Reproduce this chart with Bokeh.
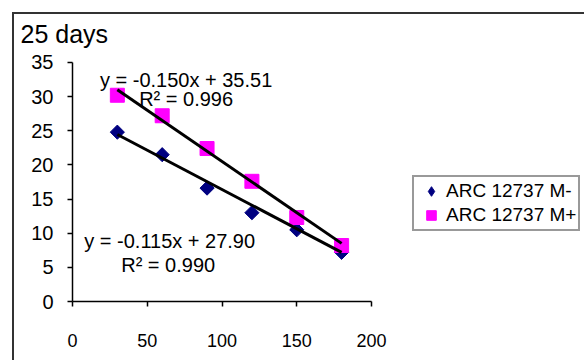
import math
from bokeh.plotting import figure
from bokeh.models import (Range1d, Legend, LegendItem, Label, FixedTicker,
                          InlineStyleSheet)
from bokeh.embed import file_html
from bokeh.resources import INLINE

# ---- data ----
days = [30, 60, 90, 120, 150, 180]
m_minus = [24.8, 21.5, 16.6, 13.0, 10.5, 7.2]
m_plus = [30.2, 27.2, 22.4, 17.6, 12.3, 8.2]
series_names = ["ARC 12737 M-", "ARC 12737 M+"]
fit_slope = [-0.115, -0.150]
fit_intercept = [27.90, 35.51]
fit_r2 = [0.990, 0.996]
x_ticks = [0, 50, 100, 150, 200]
y_ticks = [0, 5, 10, 15, 20, 25, 30, 35]
x_axis_bounds = (0, 200)
y_axis_bounds = (0, 35)
title_text = "25 days"

FONT = "Liberation Sans"
NAVY, MAGENTA = "#000080", "#FF00FF"

# geometry of the plotting area (pixels)
FRAME_LEFT, FRAME_TOP, FRAME_BOTTOM, W, H = 72, 50, 301, 584, 360
PX_PER_X = 1.495   # pixels per day
PX_PER_Y = 6.829   # pixels per unit

border_css = InlineStyleSheet(css="""
:host { position: relative; }
:host::after {
  content: ''; position: absolute; left: 12px; top: 12px;
  width: 572px; height: 348px; box-sizing: border-box;
  border-left: 2px solid #333333; border-top: 2px solid #333333;
  pointer-events: none;
}
""")

x_end = (W - FRAME_LEFT) / PX_PER_X
y_end = (FRAME_BOTTOM - FRAME_TOP) / PX_PER_Y

p = figure(width=W, height=H, output_backend="svg", toolbar_location=None,
           x_range=Range1d(0, x_end), y_range=Range1d(0, y_end),
           min_border_left=FRAME_LEFT, min_border_right=0,
           min_border_top=FRAME_TOP, min_border_bottom=H - FRAME_BOTTOM,
           stylesheets=[border_css])
p.outline_line_color = None
p.xgrid.visible = False
p.ygrid.visible = False
p.background_fill_color = None
p.border_fill_color = "white"

p.title.text = title_text
p.title.text_font = FONT
p.title.text_font_size = "25px"
p.title.text_font_style = "normal"
p.title.text_color = "black"
p.title.align = "left"
p.title.offset = -52
p.title.standoff = 6

for ax in (p.xaxis[0], p.yaxis[0]):
    ax.axis_line_color = "black"
    ax.axis_line_width = 1.5
    ax.major_tick_line_color = "black"
    ax.major_tick_line_width = 1.5
    ax.major_tick_in = 0
    ax.major_tick_out = 5
    ax.minor_tick_line_color = None
    ax.major_label_text_font = FONT
    ax.major_label_text_color = "black"
p.xaxis[0].major_label_text_font_size = "18px"
p.yaxis[0].major_label_text_font_size = "20px"
p.xaxis[0].ticker = FixedTicker(ticks=x_ticks)
p.yaxis[0].ticker = FixedTicker(ticks=y_ticks)
p.xaxis[0].bounds = x_axis_bounds
p.yaxis[0].bounds = y_axis_bounds
p.xaxis[0].major_label_standoff = 27
p.yaxis[0].major_label_standoff = 14

# diamond-shaped points (rotated square) plus a diamond marker inside them,
# which also supplies the legend swatch
r_minus = p.scatter(days, m_minus, marker="square", angle=math.pi / 4,
                    size=10, color=NAVY)
r_minus_key = p.scatter(days, m_minus, marker="diamond", size=10, color=NAVY)
r_plus = p.scatter(days, m_plus, marker="square", size=14, color=MAGENTA)

# trendlines
x0, x1 = days[0], days[-1]
for s, b in zip(fit_slope, fit_intercept):
    p.line([x0, x1], [s * x0 + b, s * x1 + b], line_color="black",
           line_width=3)

def eq(s, b):
    return "y = -%.3fx + %.2f" % (abs(s), b)

label_specs = [
    (eq(fit_slope[1], fit_intercept[1]), 76, 32.5),
    ("R² = %.3f" % fit_r2[1], 76, 29.7),
    (eq(fit_slope[0], fit_intercept[0]), 65, 8.8),
    ("R² = %.3f" % fit_r2[0], 64, 5.3),
]
for t, x, y in label_specs:
    p.add_layout(Label(x=x, y=y, text=t, text_font=FONT,
                       text_font_size="20px", text_align="center",
                       text_baseline="middle", text_color="black"))

legend = Legend(items=[LegendItem(label=series_names[0], renderers=[r_minus_key]),
                       LegendItem(label=series_names[1], renderers=[r_plus])],
                location=(340, 70), label_text_font=FONT,
                label_text_font_size="19px", label_text_color="black",
                border_line_color="#333333", border_line_width=2,
                glyph_width=30, glyph_height=24, label_standoff=0,
                padding=2, spacing=0, margin=0, label_height=20,
                background_fill_color="white", background_fill_alpha=1.0)
p.add_layout(legend, "center")

open("out.html", "w").write(file_html(p, INLINE))
